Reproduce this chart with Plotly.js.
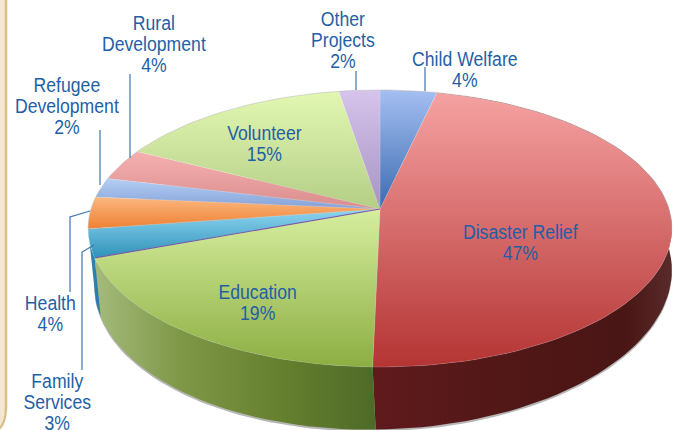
<!DOCTYPE html>
<html><head><meta charset="utf-8">
<script src="https://cdn.plot.ly/plotly-3.0.1.min.js"></script>
<style>html,body{margin:0;padding:0;background:#fff}#c{width:675px;height:430px}</style></head>
<body><div id="c"></div>
<script>
const categories = ['Child Welfare','Disaster Relief','Education','Family Services','Health','Refugee Development','Rural Development','Volunteer','Other Projects'];
const values = [3.6,46.8,19.1,3.3,3.7,2.3,3.7,15,2.6];
const percentLabels = ['4%','47%','19%','3%','4%','2%','4%','15%','2%'];
const labelLines = [['Child Welfare','4%'],['Disaster Relief','47%'],['Education','19%'],['Family','Services','3%'],['Health','4%'],['Refugee','Development','2%'],['Rural','Development','4%'],['Volunteer','15%'],['Other','Projects','2%']];
const labelCenters = [[465,68.5],[520,242],[257,302],[57,402],[50,313],[67,106],[154,44],[264,143],[343,40]];
const topColors = [['#a5bff2','#3a6bb0'],['#f6a2a2','#b43433'],['#d6ee9f','#8cae42'],['#8fd5f2','#2e92b8'],['#fcb880','#ee8032'],['#b5cff6','#84a1d6'],['#f6b0b0','#d98d8d'],['#e2f8b2','#b4ce86'],['#d6c4ec','#a693c2']];
const wallColors = {1:[[0,'#5f1a1c'],[0.5,'#501716'],[0.85,'#491615'],[1,'#5a2b2b']],2:[[0,'#a4bb7c'],[0.3,'#7f9848'],[0.65,'#66812f'],[1,'#4e6a28']],3:[[0,'#2f88b4'],[1,'#2a7aa4']]};
const leaders = [[[425,67],[425,91]],[[356,71],[356,90]],[[130,74],[130,158]],[[100,130],[100,185]],[[90,211],[70,217],[70,292]],[[94,245],[82,252],[82,370]]];

const total = values.reduce((a,b)=>a+b,0);
const k = -0.141;
const topDisk = {x:380,y:209,A:289,B:135.8,shear:0};
const botDisk = {x:383,y:256,A:286,B:149,shear:-0.025};
function proj(d,t){const u=Math.sin(t),v=-Math.cos(t),w=1+k*v;const X=d.A*u/w;return [d.x+X,d.y+d.B*v/w+d.shear*X];}
function arc(d,t0,t1){const n=Math.max(4,Math.ceil((t1-t0)*90/Math.PI));const p=[];for(let i=0;i<=n;i++)p.push(proj(d,t0+(t1-t0)*i/n));return p;}
const traces=[];
function poly(pts,extra){traces.push(Object.assign({type:'scatter',mode:'lines',x:pts.map(p=>p[0]),y:pts.map(p=>p[1]),fill:'toself',line:{width:0},hoverinfo:'skip',showlegend:false},extra));}

const shadow=arc(botDisk,Math.PI*0.3,Math.PI*1.7).map(p=>[p[0],p[1]+2]);
poly(shadow,{fillcolor:'rgba(90,90,90,0.45)'});

let cum=0;const ranges=values.map(v=>{const r=[cum/total*2*Math.PI,(cum+v)/total*2*Math.PI];cum+=v;return r;});
[1,2,3].forEach(i=>{const [a,b]=ranges[i];
  const pts=arc(topDisk,a,b).concat(arc(botDisk,a,b).reverse());
  poly(pts,{fillgradient:{type:'horizontal',colorscale:wallColors[i]}});});
ranges.forEach(([a,b],i)=>{
  const pts=[[topDisk.x,topDisk.y]].concat(arc(topDisk,a,b));pts.push([topDisk.x,topDisk.y]);
  poly(pts,{name:categories[i],fillgradient:{type:'vertical',colorscale:[[0,topColors[i][1]],[1,topColors[i][0]]]},line:{width:0.6,color:'rgba(255,255,255,0.25)'}});
});
const rim=arc(topDisk,Math.PI*1.45,Math.PI*2.55);
traces.push({type:'scatter',mode:'lines',x:rim.map(p=>p[0]),y:rim.map(p=>p[1]),line:{width:0.8,color:'rgba(170,170,170,0.55)'},hoverinfo:'skip',showlegend:false});
const edge=proj(topDisk,ranges[2][1]);
traces.push({type:'scatter',mode:'lines',x:[topDisk.x,edge[0]],y:[topDisk.y,edge[1]],line:{width:1.2,color:'#7a5aa8'},hoverinfo:'skip',showlegend:false});

const shapes=[
 {type:'rect',xref:'x',yref:'y',x0:0,x1:7,y0:0,y1:430,fillcolor:'#f3e7cf',line:{width:0},layer:'below'},
 {type:'path',xref:'x',yref:'y',path:'M 6 0 L 6 408 Q 6 422 0 428',line:{color:'#d9bd88',width:2.5},layer:'below'},
 {type:'path',xref:'x',yref:'y',path:'M 7 408 Q 7 423 0 430 L 7 430 Z',fillcolor:'#ffffff',line:{width:0},layer:'below'}
];
leaders.forEach(l=>{shapes.push({type:'path',xref:'x',yref:'y',path:'M '+l.map(p=>p.join(' ')).join(' L '),line:{color:'#3f74ad',width:1.2},layer:'above'});});

const fontSize=21;
const annotations=labelLines.map((lines,i)=>({x:labelCenters[i][0],y:labelCenters[i][1],xref:'x',yref:'y',text:lines.join('<br>'),showarrow:false,xanchor:'center',yanchor:'middle',align:'center',font:{family:'"Liberation Sans",sans-serif',size:fontSize,color:'#1f5fa6'}}));

Plotly.newPlot('c',traces,{width:675,height:430,margin:{l:0,r:0,t:0,b:0},paper_bgcolor:'#fff',plot_bgcolor:'#fff',showlegend:false,
 xaxis:{range:[0,675],visible:false,fixedrange:true},yaxis:{range:[430,0],visible:false,fixedrange:true},shapes,annotations},{displayModeBar:false,staticPlot:true}).then(gd=>{
  // the reference uses a condensed face with tight leading: narrow the labels about their centres and close up the lines
  gd.querySelectorAll('.annotation-text').forEach(t=>{
    const lines=t.querySelectorAll('tspan.line');
    lines.forEach((s,i)=>s.setAttribute('dy',i+'em'));
    const b=t.getBBox();const cx=b.x+b.width/2;
    const dy=Math.max(0,lines.length-1)*0.3*fontSize/2;
    t.setAttribute('transform','translate('+cx+' '+dy+') scale(0.84 1) translate('+(-cx)+' 0)');
  });
});
</script></body></html>
